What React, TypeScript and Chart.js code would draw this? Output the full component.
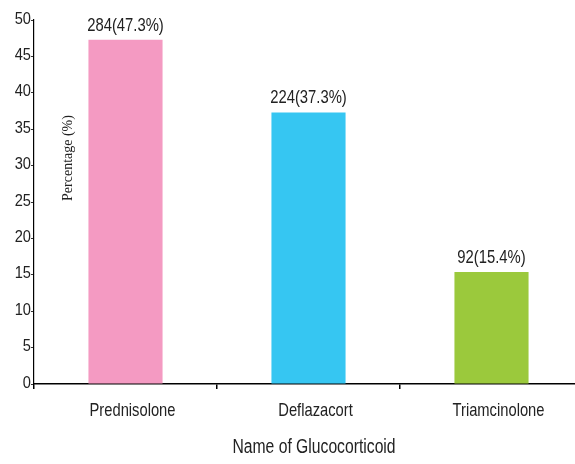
import React, { useEffect, useRef } from "react";
import { Chart, registerables } from "chart.js";

Chart.register(...registerables);

const categories = ["Prednisolone", "Deflazacort", "Triamcinolone"];
const percentages = [47.3, 37.3, 15.4];
const counts = [284, 224, 92];
const barColors = ["#F49AC2", "#36C6F2", "#9BC93C"];
const yTicks = [0, 5, 10, 15, 20, 25, 30, 35, 40, 45, 50];
const xTitle = "Name of Glucocorticoid";
const yTitle = "Percentage (%)";

const SANS = "'Liberation Sans', Arial, sans-serif";
const SERIF = "'Liberation Serif', 'Times New Roman', serif";
const TEXT_COLOR = "#222";

// draws text horizontally condensed, like a narrow sans face
function narrowText(
  ctx: CanvasRenderingContext2D,
  text: string,
  x: number,
  y: number,
  align: CanvasTextAlign,
  squeeze: number
) {
  ctx.save();
  ctx.translate(x, y);
  ctx.scale(squeeze, 1);
  ctx.textAlign = align;
  ctx.fillText(text, 0, 0);
  ctx.restore();
}

const textPlugin = {
  id: "chartTexts",
  afterDraw(chart: any) {
    const { ctx, chartArea } = chart;
    const xScale = chart.scales.x;
    const yScale = chart.scales.y;
    ctx.save();
    ctx.fillStyle = TEXT_COLOR;

    // y tick labels
    ctx.font = `17px ${SANS}`;
    ctx.textBaseline = "middle";
    yTicks.forEach((v) => {
      narrowText(ctx, String(v), 31, yScale.getPixelForValue(v) - 1, "right", 0.86);
    });

    // category labels
    ctx.font = `19px ${SANS}`;
    ctx.textBaseline = "alphabetic";
    categories.forEach((c, i) => {
      narrowText(ctx, c, xScale.getPixelForValue(i) + 7, 416, "center", 0.775);
    });

    // value labels above bars
    const meta = chart.getDatasetMeta(0);
    meta.data.forEach((bar: any, i: number) => {
      narrowText(
        ctx,
        `${counts[i]}(${percentages[i]}%)`,
        bar.x,
        yScale.getPixelForValue(percentages[i]) - 9,
        "center",
        0.78
      );
    });

    // x-axis title
    ctx.font = `20px ${SANS}`;
    narrowText(ctx, xTitle, 314, 453, "center", 0.785);

    // y-axis title, rotated, inside plot area
    ctx.translate(chartArea.left + 34, 158);
    ctx.rotate(-Math.PI / 2);
    ctx.font = `14px ${SERIF}`;
    ctx.textAlign = "center";
    ctx.textBaseline = "middle";
    ctx.fillText(yTitle, 0, 0);
    ctx.restore();
  },
};

export default function App() {
  const canvasRef = useRef<HTMLCanvasElement | null>(null);

  useEffect(() => {
    document.body.style.margin = "0";
    const canvas = canvasRef.current;
    if (!canvas) return;
    const chart = new Chart(canvas, {
      type: "bar",
      data: {
        labels: categories,
        datasets: [
          {
            data: percentages,
            backgroundColor: barColors,
            borderWidth: 0,
            barPercentage: 0.405,
            categoryPercentage: 1,
          },
        ],
      },
      options: {
        responsive: false,
        animation: false,
        devicePixelRatio: 1,
        layout: { padding: { top: 20, right: 0, left: 0, bottom: 0 } },
        plugins: {
          legend: { display: false },
          tooltip: { enabled: false },
        },
        scales: {
          x: {
            offset: true,
            border: { display: true, color: "#000", width: 1.5 },
            grid: {
              display: true,
              offset: true,
              drawOnChartArea: false,
              drawTicks: true,
              tickLength: 5,
              color: "#000",
              lineWidth: 1.5,
            },
            ticks: {
              color: "rgba(0,0,0,0)",
              font: { family: SANS, size: 17 },
              padding: 10,
              maxRotation: 0,
            },
            afterFit(scale: any) {
              scale.height = 80;
            },
          },
          y: {
            min: 0,
            max: 50,
            border: { display: true, color: "#000", width: 1.2 },
            grid: {
              display: true,
              drawOnChartArea: false,
              drawTicks: true,
              tickLength: 3,
              color: "#333",
            },
            afterBuildTicks(scale: any) {
              scale.ticks = yTicks.map((v) => ({ value: v }));
            },
            ticks: {
              color: "rgba(0,0,0,0)",
              font: { family: SANS, size: 17 },
              padding: 0,
            },
            afterFit(scale: any) {
              scale.width = 34;
            },
          },
        },
      },
      plugins: [textPlugin],
    });
    return () => chart.destroy();
  }, []);

  return (
    <div style={{ width: 575, height: 464, overflow: "hidden" }}>
      <canvas ref={canvasRef} width={583} height={464} style={{ display: "block" }} />
    </div>
  );
}
